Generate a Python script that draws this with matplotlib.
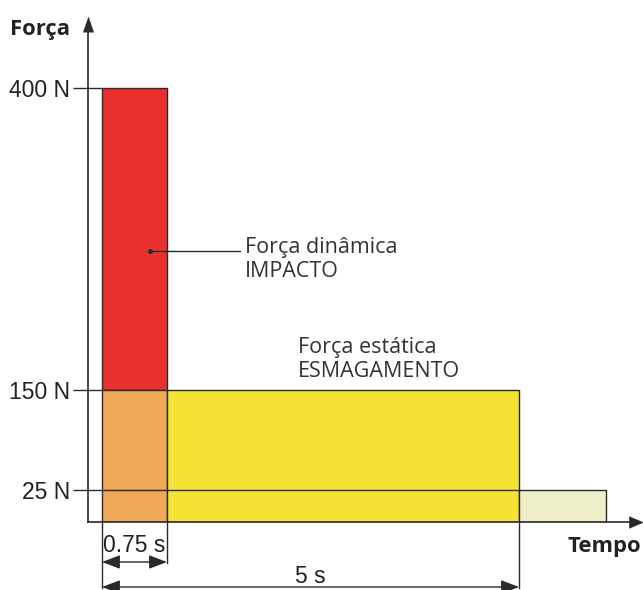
import numpy as np
import matplotlib
matplotlib.use("Agg")
import matplotlib.pyplot as plt
from matplotlib import transforms

# ---------------- data ----------------
phase_names = ["Impacto", "Impacto (base)", "Esmagamento", "Residual"]
t_start = [0.0, 0.0, 0.75, 5.0]      # s
t_end = [0.75, 0.75, 5.0, 6.05]      # s
f_low = [150, 0, 0, 0]               # N
f_high = [400, 150, 150, 25]         # N
bar_colors = ["#E8312F", "#EFA855", "#F4E334", "#EEEEC8"]

force_levels = [25, 150, 400]
force_labels = ["25 N", "150 N", "400 N"]

dim_intervals = [(0.0, 0.75), (0.0, 5.0)]
dim_labels = ["0.75 s", "5 s"]

# ---------------- figure ----------------
W, H = 643, 590
fig = plt.figure(figsize=(W / 100, H / 100), dpi=100)
INK = "#2a2a2a"

# axes frame in pixels (left, bottom, right, top)
AX_L, AX_B, AX_R, AX_T = 88, 522, 636, 24
ax = fig.add_axes([AX_L / W, (H - AX_B) / H, (AX_R - AX_L) / W, (AX_B - AX_T) / H])


def piecewise(d, p):
    d = np.asarray(d, float)
    p = np.asarray(p, float)
    s0 = (p[1] - p[0]) / (d[1] - d[0])
    s1 = (p[-1] - p[-2]) / (d[-1] - d[-2])

    def fwd(x):
        x = np.asarray(x, float)
        y = np.interp(x, d, p)
        y = np.where(x < d[0], p[0] + (x - d[0]) * s0, y)
        y = np.where(x > d[-1], p[-1] + (x - d[-1]) * s1, y)
        return y

    def inv(y):
        y = np.asarray(y, float)
        x = np.interp(y, p, d)
        x = np.where(y < p[0], d[0] + (y - p[0]) / s0, x)
        x = np.where(y > p[-1], d[-1] + (y - p[-1]) / s1, x)
        return x

    return fwd, inv


# schematic (non-linear) scales of the original diagram
xf, xi = piecewise([0.0, 0.75, 5.0], [14, 79, 431])
yf, yi = piecewise([0, 25, 150, 400], [0, 32, 132, 434])
ax.set_xscale("function", functions=(xf, xi))
ax.set_yscale("function", functions=(yf, yi))
ax.set_xlim(float(xi(0)), float(xi(AX_R - AX_L)))
ax.set_ylim(float(yi(0)), float(yi(AX_B - AX_T)))


def at_px(px, py):
    """layout helper: figure pixel -> data coordinates"""
    return float(xi(px - AX_L)), float(yi(AX_B - py))


# bars
heights = [h - l for h, l in zip(f_high, f_low)]
widths = [e - s for e, s in zip(t_end, t_start)]
ax.bar(t_start, heights, width=widths, bottom=f_low, align="edge",
       color=bar_colors, edgecolor=INK, linewidth=1.0, zorder=2)

# level lines from the axis to the bar that starts at that level
x0 = ax.get_xlim()[0]
for lvl in force_levels:
    ends = [s for s, h in zip(t_start, f_high) if h == lvl]
    ax.hlines(lvl, x0, min(ends), color=INK, linewidth=1.0, zorder=3)

# spines / ticks
for s in ("top", "right"):
    ax.spines[s].set_visible(False)
for s in ("left", "bottom"):
    ax.spines[s].set_color(INK)
    ax.spines[s].set_linewidth(1.2)
ax.set_xticks([])
ax.set_yticks(force_levels, force_labels)
ax.minorticks_off()
ax.tick_params(axis="y", direction="out", length=11, width=1.0, pad=2,
               color=INK, labelcolor="#222222", labelsize=16.5)
for lab in ax.get_yticklabels():
    lab.set_family("Liberation Sans")

# axis arrows
ax.plot([1], [0], transform=ax.transAxes, clip_on=False, color=INK,
        marker=[(-1, -0.85), (1, 0), (-1, 0.85), (-1, -0.85)], ms=10.5, mew=0, zorder=5)
ax.plot([0], [1], transform=ax.transAxes, clip_on=False, color=INK,
        marker=[(-0.69, -1), (0, 1), (0.69, -1), (-0.69, -1)], ms=11.5, mew=0, zorder=5)

# dimension lines below the axis
axh = AX_B - AX_T
trans = transforms.blended_transform_factory(ax.transData, ax.transAxes)
dim_y = [-40 / axh, -65 / axh]
lab_y = [-30 / axh, -61 / axh]
ext = {}
for (a, b), yy in zip(dim_intervals, dim_y):
    for t in (a, b):
        ext[t] = min(ext.get(t, 0), yy)
for t, yy in ext.items():
    ax.plot([t, t], [0, yy - 1 / axh], transform=trans, clip_on=False,
            color=INK, linewidth=1.0)
for (a, b), yy, ly, txt in zip(dim_intervals, dim_y, lab_y, dim_labels):
    ax.annotate("", xy=(b, yy), xytext=(a, yy), xycoords=trans, textcoords=trans,
                arrowprops=dict(arrowstyle="<|-|>,head_length=1.0,head_width=0.38",
                                mutation_scale=11, color=INK, lw=1.0,
                                shrinkA=0, shrinkB=0), annotation_clip=False)
    mid = float(xi((xf(a) + xf(b)) / 2))
    ax.text(mid, ly, txt, transform=trans, ha="center", va="baseline",
            fontsize=16.5, family="Liberation Sans", color="#222222", clip_on=False)

# leader line for the dynamic force
p0 = at_px(150, 251)
p1 = at_px(240, 251)
ax.plot([p0[0], p1[0]], [p0[1], p1[1]], color=INK, linewidth=1.0, zorder=4)
ax.plot([p0[0]], [p0[1]], "o", color=INK, ms=2.5, zorder=4)

txt_kw = dict(fontsize=15.5, family="Open Sans", color="#333333", va="baseline", ha="left")
ax.text(*at_px(245, 253), "Força dinâmica", **txt_kw)
ax.text(*at_px(245, 277), "IMPACTO", **txt_kw)
ax.text(*at_px(298, 353), "Força estática", **txt_kw)
ax.text(*at_px(298, 377), "ESMAGAMENTO", **txt_kw)

# axis titles
fig.text(10 / W, (H - 35) / H, "Força", fontsize=15.8, family="Open Sans",
         weight="bold", color="#222222", va="baseline", ha="left")
fig.text(567 / W, (H - 552) / H, "Tempo", fontsize=15.8, family="Open Sans",
         weight="bold", color="#222222", va="baseline", ha="left")

fig.savefig("out.png", dpi=100)
